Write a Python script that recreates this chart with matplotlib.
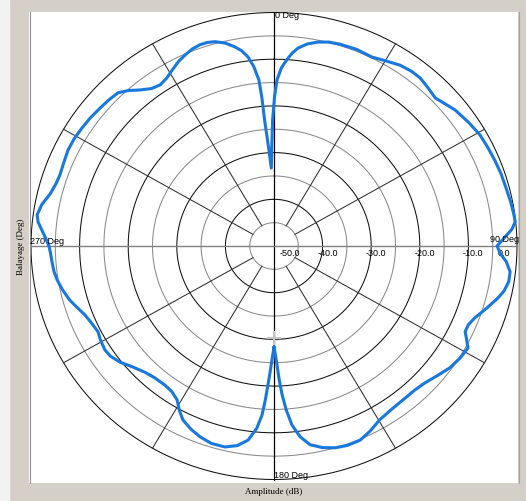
import numpy as np
import matplotlib.pyplot as plt
from matplotlib.patches import Rectangle
from matplotlib.transforms import offset_copy

# scan angle (deg, clockwise from top) and measured amplitude (dB)
angle_deg = [-180.0, -179.5, -179.0, -178.3, -177.6, -176.9, -176.1, -174.8,
             -172.7, -170.0, -166.8, -163.0, -159.6, -156.5, -153.3, -151.0,
             -148.8, -146.0, -143.0, -139.0, -135.5, -131.5, -128.1, -125.0,
             -122.6, -119.5, -116.9, -113.8, -110.8, -108.0, -105.4, -102.2,
             -99.3, -96.8, -94.3, -92.0, -90.0, -88.0, -85.9, -84.0,
             -82.2, -79.5, -76.4, -73.5, -71.0, -67.5, -64.1, -60.8,
             -57.4, -54.0, -50.5, -47.5, -44.4, -42.0, -39.5, -36.8,
             -34.2, -31.5, -29.1, -26.5, -24.1, -21.8, -19.5, -17.5,
             -15.5, -13.0, -10.7, -9.0, -7.5, -6.2, -5.0, -4.5,
             -4.1, -3.0, -1.9, -1.2, -0.6, 0.2, 1.0, 2.3,
             3.8, 5.2, 6.7, 9.0, 11.7, 14.5, 17.5, 22.0,
             26.5, 30.0, 33.8, 37.0, 39.9, 43.0, 46.3, 49.0,
             52.0, 56.5, 60.7, 64.5, 68.0, 71.5, 74.7, 79.0,
             82.0, 84.0, 85.8, 87.5, 90.0, 92.0, 94.0, 96.5,
             99.0, 101.5, 103.6, 107.0, 110.4, 112.8, 115.0, 116.8,
             118.7, 122.0, 125.8, 129.5, 133.4, 137.0, 140.4, 145.0,
             149.7, 153.5, 156.9, 160.5, 163.8, 167.0, 170.1, 172.5,
             174.5, 175.9, 177.0, 177.9, 178.6, 179.4, 180.0]
amp_db = [-28.4, -27.0, -25.6, -23.0, -20.2, -17.0, -13.7, -10.8,
          -8.1, -6.6, -5.8, -5.8, -6.4, -7.2, -8.3, -9.8,
          -11.5, -12.4, -12.7, -12.6, -12.1, -11.0, -9.7, -8.9,
          -8.7, -9.0, -9.4, -9.0, -8.4, -7.4, -6.4, -5.5,
          -4.8, -4.4, -4.2, -4.0, -3.7, -3.0, -2.1, -1.2,
          -0.8, -1.4, -2.6, -3.2, -3.4, -3.2, -2.9, -2.9,
          -3.1, -3.3, -3.6, -3.8, -4.1, -5.2, -6.7, -7.9,
          -8.3, -7.8, -6.9, -5.9, -5.2, -4.6, -4.3, -4.3,
          -4.6, -5.4, -6.6, -7.7, -9.2, -11.3, -14.3, -18.0,
          -23.0, -29.0, -33.3, -28.5, -23.0, -18.0, -14.4, -11.8,
          -10.0, -8.5, -7.3, -6.2, -5.4, -4.9, -4.7, -4.6,
          -4.8, -4.2, -3.4, -3.1, -3.1, -3.6, -4.1, -3.5,
          -2.7, -2.0, -1.4, -1.2, -1.0, -0.8, -0.7, -0.4,
          -0.2, -0.1, -0.9, -2.3, -4.1, -3.4, -2.1, -1.1,
          -1.1, -1.7, -2.6, -4.3, -5.9, -6.6, -6.6, -5.6,
          -4.5, -4.8, -5.4, -6.4, -7.3, -7.7, -7.7, -7.5,
          -6.9, -5.7, -4.8, -4.7, -5.0, -5.7, -6.8, -8.8,
          -11.5, -14.8, -18.1, -21.5, -24.5, -27.0, -28.4]

cursor_deg, cursor_db = 180.0, -30.2

ring_db = [-45, -40, -35, -30, -25, -20, -15, -10, -5, 0]
label_db = [-50, -40, -30, -20, -10, 0]
spoke_deg = [30, 60, 120, 150, 210, 240, 300, 330]

W, H = 526, 501
fig = plt.figure(figsize=(W / 100, H / 100), dpi=100)
fig.patch.set_facecolor('#d4d0c8')


def fx(x):
    return x / W


def fy(y):
    return 1 - y / H


# window frame
fig.add_artist(Rectangle((0, 0), fx(9), 1, transform=fig.transFigure,
                         color='#f2f2f2', zorder=0))
fig.add_artist(Rectangle((fx(29), fy(483)), fx(489), 471 / H,
                         transform=fig.transFigure, facecolor='white',
                         edgecolor='none', zorder=0))
fig.add_artist(plt.Line2D([fx(29.5)] * 2, [fy(483), fy(12)],
                          transform=fig.transFigure, color='#909090', lw=0.8))
fig.add_artist(plt.Line2D([fx(518.5)] * 2, [fy(483), fy(12)],
                          transform=fig.transFigure, color='#a0a0a0', lw=0.8))

ax = fig.add_axes([fx(31), fy(479.5), fx(486), 467 / H], projection='polar')
ax.set_aspect('auto')
ax.set_facecolor('none')
ax.set_theta_zero_location('N')
ax.set_theta_direction(-1)
ax.set_ylim(-50, 0)
ax.grid(False)
ax.set_xticks([])
ax.set_yticks([])
ax.spines['polar'].set_visible(False)

# rings: every 10 dB black, the ones in between grey
th = np.linspace(0, 2 * np.pi, 721)
for r in ring_db:
    col = '#101010' if r % 10 == 0 else '#8a8a8a'
    ax.plot(th, np.full_like(th, r), color=col, lw=0.75, clip_on=False)

for a in spoke_deg:
    ax.plot([np.deg2rad(a)] * 2, [-45, 0], color='#303030', lw=0.75,
            clip_on=False)
for a in [0, 180]:
    ax.plot([np.deg2rad(a)] * 2, [-50, 0], color='black', lw=0.9,
            clip_on=False)
for a in [90, 270]:
    ax.plot([np.deg2rad(a)] * 2, [-50, 0], color='#808080', lw=1.0,
            clip_on=False)

lab = dict(family='Liberation Sans', size=6.5, color='black')
for v in label_db:
    dx = 6 if v == -50 else (-19 if v == 0 else -5.5)
    tr = offset_copy(ax.transData, fig=fig, x=dx, y=-7, units='dots')
    ax.text(np.pi / 2, v, f'{v:.1f}', transform=tr, ha='left', va='center',
            **lab)

fig.text(fx(275), fy(16), '0 Deg', ha='left', va='center', **lab)
fig.text(fx(490), fy(240), '90 Deg', ha='left', va='center', **lab)
fig.text(fx(274), fy(476), '180 Deg', ha='left', va='center', **lab)
fig.text(fx(30), fy(242), '270 Deg', ha='left', va='center', **lab)

fig.text(fx(274), fy(492), 'Amplitude (dB)', ha='center', va='center',
         family='Liberation Serif', size=6.5)
fig.text(fx(21), fy(247), 'Balayage (Deg)', ha='center', va='center',
         rotation=90, family='Liberation Serif', size=6.5)

ax.plot(np.deg2rad(angle_deg), amp_db, color='#1878de', lw=2.2,
        solid_joinstyle='round', solid_capstyle='round', clip_on=False,
        zorder=5)
ax.plot(np.deg2rad(cursor_deg), cursor_db, marker='+', ms=10, mew=1.6,
        color='#c4c4c4', zorder=4, clip_on=False)

fig.savefig('out.png', dpi=100)
